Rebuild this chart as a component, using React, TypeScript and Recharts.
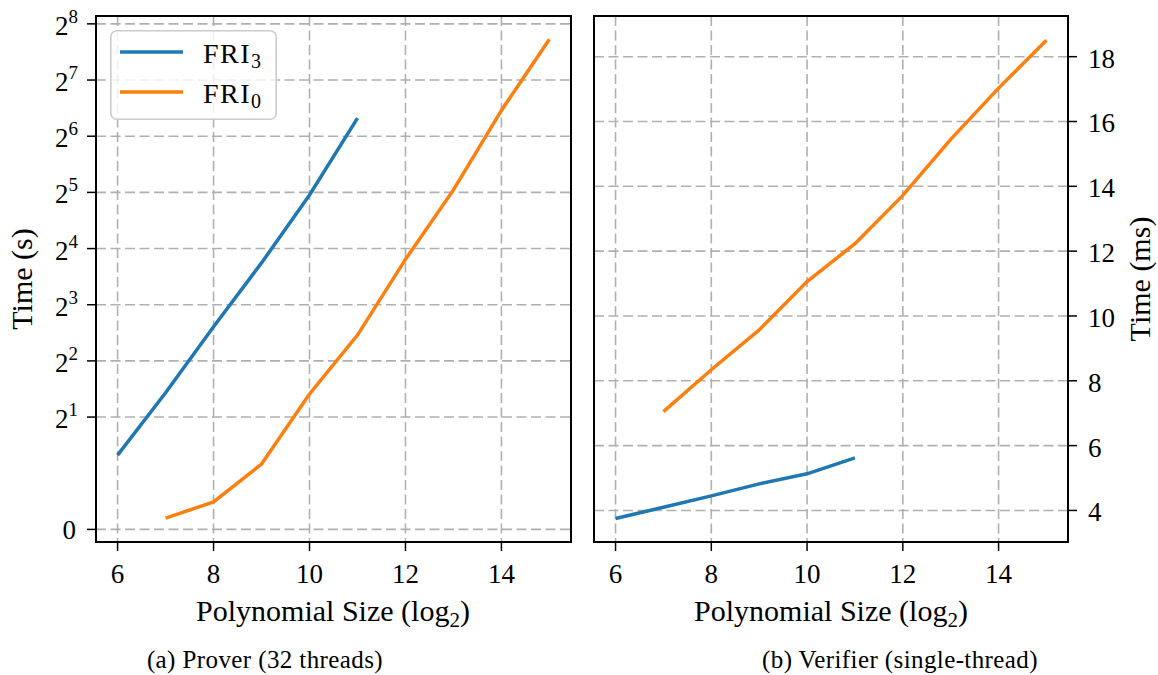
import {
    LineChart,
    Line,
    XAxis,
    YAxis,
    CartesianGrid,
    ReferenceArea,
    Legend
} from "recharts";

const FONT = "'Liberation Serif', 'DejaVu Serif', serif";

// polynomial size (log2)
const sizeTicks = [6, 8, 10, 12, 14];
const fri3Sizes = [6, 7, 8, 9, 10, 11];
const fri0Sizes = [7, 8, 9, 10, 11, 12, 13, 14, 15];

// prover time, seconds
const proverFri3 = [1.25, 2.7, 6.1, 13.4, 31, 80];
const proverFri0 = [0.2, 0.49, 1.12, 2.66, 5.5, 14, 33, 88, 212];
const proverTicks = [0, 2, 4, 8, 16, 32, 64, 128, 256];

// verifier time, ms
const verifierFri3 = [3.75, 4.1, 4.45, 4.82, 5.13, 5.62];
const verifierFri0 = [7.05, 8.34, 9.57, 11.06, 12.23, 13.72, 15.45, 17.03, 18.51];
const verifierTicks = [4, 6, 8, 10, 12, 14, 16, 18];

const series = [
    { key: "fri3", base: "FRI", sub: "3", color: "#1f77b4" },
    { key: "fri0", base: "FRI", sub: "0", color: "#ff7f0e" }
];

// symlog, base 2, linear below 1
const symlog = (v: number) => (v <= 1 ? v : 1 + Math.log2(v));
const unSymlog = (u: number) => (u <= 1 ? u : Math.pow(2, u - 1));

function buildTable(fri3: number[], fri0: number[], tf: (v: number) => number) {
    const all = Array.from(new Set([...fri3Sizes, ...fri0Sizes])).sort((a, b) => a - b);
    return all.map((s) => {
        const i3 = fri3Sizes.indexOf(s);
        const i0 = fri0Sizes.indexOf(s);
        return {
            size: s,
            fri3: i3 >= 0 ? tf(fri3[i3]) : null,
            fri0: i0 >= 0 ? tf(fri0[i0]) : null
        };
    });
}

const proverData = buildTable(proverFri3, proverFri0, symlog);
const verifierData = buildTable(verifierFri3, verifierFri0, (v) => v);

const gridProps = {
    stroke: "#b0b0b0",
    strokeWidth: 1.6,
    strokeDasharray: "10 4.5"
};

const tickLine = { stroke: "#000", strokeWidth: 1.5 };

function XTick({ x, y, payload }: any) {
    return (
        <text x={x} y={y} dy={32} textAnchor="middle" fontFamily={FONT} fontSize={27} fill="#000">
            {payload.value}
        </text>
    );
}

function PowTick({ x, y, payload }: any) {
    const v = unSymlog(payload.value);
    if (v === 0) {
        return (
            <text x={x - 11} y={y + 10} textAnchor="end" fontFamily={FONT} fontSize={27} fill="#000">
                0
            </text>
        );
    }
    const k = Math.round(Math.log2(v));
    return (
        <text x={x - 9} y={y + 11} textAnchor="end" fontFamily={FONT} fontSize={27} fill="#000">
            <tspan>2</tspan>
            <tspan dy={-12} fontSize={19}>{k}</tspan>
        </text>
    );
}

function RightTick({ x, y, payload }: any) {
    return (
        <text x={x + 11} y={y + 11} textAnchor="start" fontFamily={FONT} fontSize={27} fill="#000">
            {payload.value}
        </text>
    );
}

function LegendBox() {
    return (
        <svg width={167} height={90} style={{ display: "block" }}>
            <rect x={0.8} y={0.8} width={165.4} height={88.4} rx={6} ry={6}
                fill="rgba(255,255,255,0.8)" stroke="#cccccc" strokeWidth={1.6} />
            {series.map((s, i) => (
                <g key={s.key}>
                    <line x1={10} x2={73} y1={22 + i * 40} y2={22 + i * 40} stroke={s.color} strokeWidth={3.5} />
                    <text x={93} y={33 + i * 40} fontFamily={FONT} fontSize={28} letterSpacing={1.5} fill="#000">
                        <tspan>{s.base}</tspan>
                        <tspan dy={5} fontSize={20}>{s.sub}</tspan>
                    </text>
                </g>
            ))}
        </svg>
    );
}

function App() {

    const xDomain = [5.55, 15.45];
    const proverDomain = [-0.224, 9.14];
    const verifierDomain = [3.026, 19.255];

    return (
        <div style={{ position: "absolute", left: 0, top: 0, width: 1158, height: 675, background: "#fff" }}>

            <div style={{ position: "absolute", left: 0, top: 0 }}>
                <LineChart width={590} height={675} data={proverData}
                    margin={{ top: 16, right: 19, bottom: 73, left: 0 }}>
                    <CartesianGrid {...gridProps} />
                    <XAxis dataKey="size" type="number" domain={xDomain} allowDataOverflow
                        ticks={sizeTicks} interval={0} height={60} tickSize={9} tickMargin={0}
                        axisLine={false} tickLine={tickLine} tick={<XTick />} />
                    <YAxis type="number" domain={proverDomain} allowDataOverflow
                        ticks={proverTicks.map(symlog)} interval={0} width={96} tickSize={9} tickMargin={0}
                        axisLine={false} tickLine={tickLine} tick={<PowTick />} />
                    <ReferenceArea x1={xDomain[0]} x2={xDomain[1]} y1={proverDomain[0]} y2={proverDomain[1]}
                        fill="none" fillOpacity={0} stroke="#000" strokeWidth={2} />
                    {series.map((s) => (
                        <Line key={s.key} type="linear" dataKey={s.key} stroke={s.color} strokeWidth={3.5}
                            dot={false} activeDot={false} isAnimationActive={false} />
                    ))}
                    <Legend layout="vertical" align="center" verticalAlign="middle"
                        wrapperStyle={{ left: 110, top: 30, width: 167, height: 90 }}
                        content={() => <LegendBox />} />
                </LineChart>
            </div>

            <div style={{ position: "absolute", left: 580, top: 0 }}>
                <LineChart width={578} height={675} data={verifierData}
                    margin={{ top: 16, right: 0, bottom: 73, left: 14 }}>
                    <CartesianGrid {...gridProps} />
                    <XAxis dataKey="size" type="number" domain={xDomain} allowDataOverflow
                        ticks={sizeTicks} interval={0} height={60} tickSize={9} tickMargin={0}
                        axisLine={false} tickLine={tickLine} tick={<XTick />} />
                    <YAxis orientation="right" type="number" domain={verifierDomain} allowDataOverflow
                        ticks={verifierTicks} interval={0} width={90} tickSize={9} tickMargin={0}
                        axisLine={false} tickLine={tickLine} tick={<RightTick />} />
                    <ReferenceArea x1={xDomain[0]} x2={xDomain[1]} y1={verifierDomain[0]} y2={verifierDomain[1]}
                        fill="none" fillOpacity={0} stroke="#000" strokeWidth={2} />
                    {series.map((s) => (
                        <Line key={s.key} type="linear" dataKey={s.key} stroke={s.color} strokeWidth={3.5}
                            dot={false} activeDot={false} isAnimationActive={false} />
                    ))}
                </LineChart>
            </div>

            {/* axis titles and sub-captions */}
            <svg width={1158} height={675} style={{ position: "absolute", left: 0, top: 0, pointerEvents: "none" }}>
                <text x={333} y={621} textAnchor="middle" fontFamily={FONT} fontSize={30} fill="#000">
                    <tspan>Polynomial Size (log</tspan>
                    <tspan dy={6} fontSize={21}>2</tspan>
                    <tspan dy={-6}>)</tspan>
                </text>
                <text x={831} y={621} textAnchor="middle" fontFamily={FONT} fontSize={30} fill="#000">
                    <tspan>Polynomial Size (log</tspan>
                    <tspan dy={6} fontSize={21}>2</tspan>
                    <tspan dy={-6}>)</tspan>
                </text>
                <text x={32} y={279} textAnchor="middle" fontFamily={FONT} fontSize={30} fill="#000"
                    transform="rotate(-90, 32, 279)">Time (s)</text>
                <text x={1150} y={279} textAnchor="middle" fontFamily={FONT} fontSize={30} fill="#000"
                    transform="rotate(-90, 1150, 279)">Time (ms)</text>
                <text x={265} y={668} textAnchor="middle" fontFamily={FONT} fontSize={25} letterSpacing={0.4} fill="#000">
                    (a) Prover (32 threads)
                </text>
                <text x={900} y={668} textAnchor="middle" fontFamily={FONT} fontSize={25} letterSpacing={0.4} fill="#000">
                    (b) Verifier (single-thread)
                </text>
            </svg>

        </div>
    );
}

export default App;
